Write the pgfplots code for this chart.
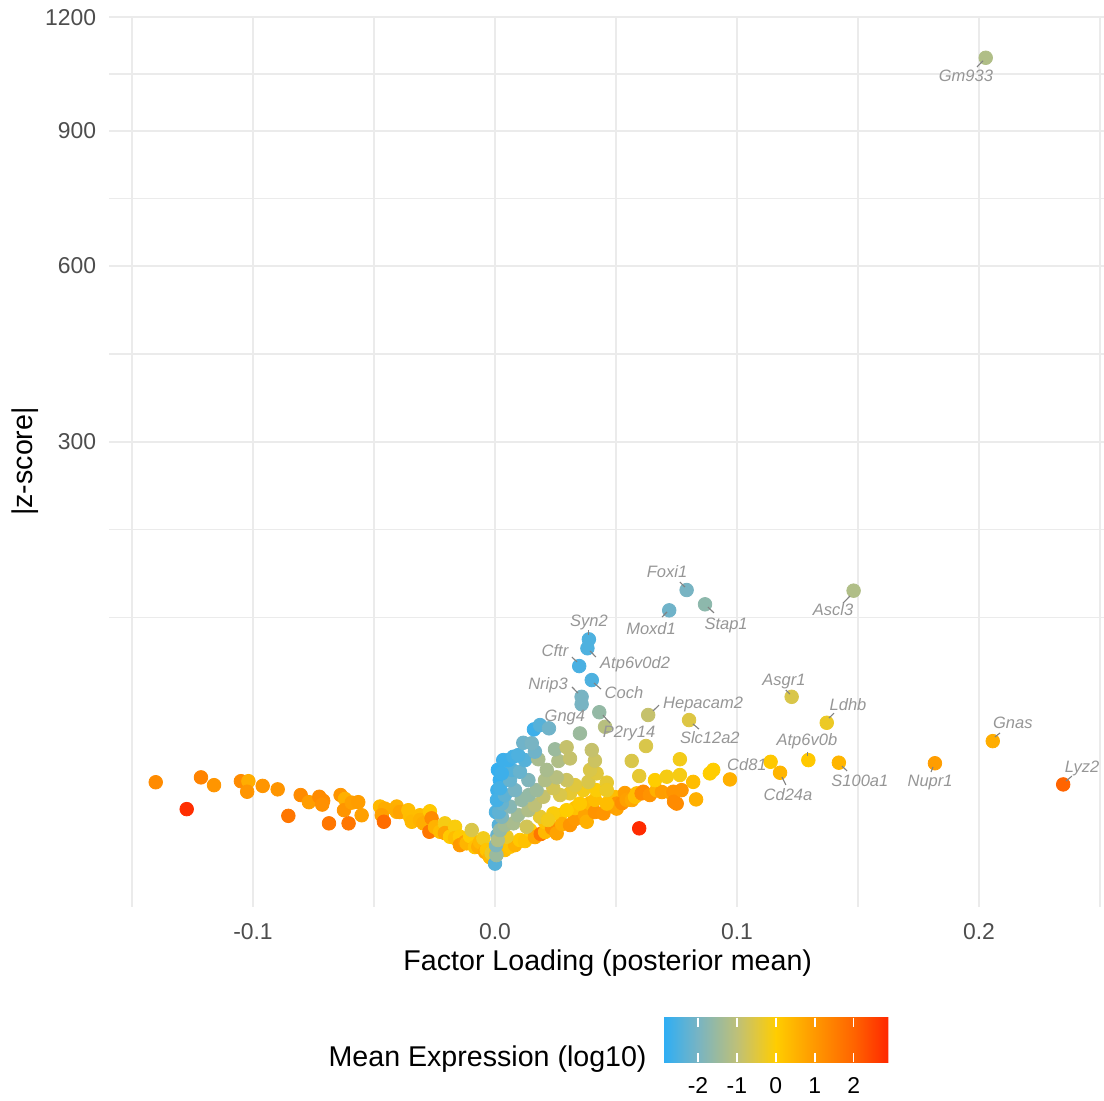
\documentclass[border=0pt]{standalone}
\usepackage{fontspec}
\setmainfont{Liberation Sans}
\usepackage{pgfplots}
\pgfplotsset{compat=1.18}
\usepackage{pgfplotstable}
\usetikzlibrary{calc}

\definecolor{gridc}{RGB}{235,235,235}
\definecolor{tickc}{RGB}{77,77,77}
\definecolor{labc}{RGB}{150,150,150}
\definecolor{segc}{RGB}{130,130,130}

\pgfplotsset{colormap={expr}{rgb255(0cm)=(45,174,245); rgb255(0.89cm)=(120,180,195); rgb255(1.89cm)=(190,192,120); rgb255(2.39cm)=(224,199,62); rgb255(2.89cm)=(255,205,0); rgb255(3.89cm)=(255,152,0); rgb255(4.89cm)=(255,100,0); rgb255(5.78cm)=(255,40,0)}}
\pgfplotsset{pt/.style={scatter, only marks, mark=*, mark size=3.4pt, point meta=explicit,
    scatter/use mapped color={draw=mapped color, fill=mapped color}}}

% x = factor loading, z = |z-score|, e = mean expression (log10)
\pgfplotstableread{
x z e
-0.1402 11.7 1.25
-0.1274 5.4 2.8
-0.1215 13.1 1.4
-0.1161 10.9 1.05
-0.1050 12.0 1.25
-0.1019 12.0 0.6
-0.1024 9.2 1.05
-0.0960 10.7 1.05
-0.0898 9.8 1.05
-0.0854 4.2 1.65
-0.0803 8.4 1.25
-0.0769 6.8 0.9
-0.0726 8.0 1.25
-0.0710 7.1 1.25
-0.0714 6.3 1.15
-0.0686 3.04 1.65
-0.0638 8.4 1.05
-0.0620 7.5 0.55
-0.0624 5.2 1.05
-0.0605 3.04 1.65
-0.0592 6.7 0.85
-0.0565 6.8 0.9
-0.0551 4.3 0.85
-0.0475 5.9 0.4
-0.0455 5.5 0.6
-0.0468 4.3 0.85
-0.0459 3.27 1.85
-0.0406 5.9 0.55
-0.0406 4.9 0.6
-0.0393 4.86 0.8
-0.0358 5.2 0.3
-0.0351 4.05 0.3
-0.0344 3.27 0.4
-0.0310 4.3 0.3
-0.0310 3.53 0.5
-0.0296 3.04 0.6
-0.0269 5.0 0.1
-0.0262 3.8 1.25
-0.0271 1.96 1.65
-0.0248 2.53 0.5
-0.0227 1.96 0.3
-0.0207 3.04 -0.15
-0.0207 1.81 0.8
-0.0186 1.43 0.05
-0.0165 2.57 -0.1
-0.0165 1.31 0.3
-0.0145 1.43 0.05
-0.0145 0.73 1.0
-0.0124 0.96 0.9
-0.0117 0.86 0.45
-0.0103 1.50 0.0
-0.0096 2.16 -0.6
-0.0083 0.60 0.2
-0.0069 0.62 0.6
-0.0062 0.96 0.4
-0.0048 1.28 -0.2
-0.0041 0.33 0.7
-0.0034 0.43 0.15
-0.0021 0.13 0.4
-0.0014 0.27 -0.3
0.0007 0.27 0.5
0.0008 0.43 0.1
0.0041 0.43 0.3
0.0062 0.62 0.2
0.0083 0.73 0.5
0.0103 1.13 0.1
0.0124 1.04 0.2
0.0145 2.16 0.0
0.0165 1.40 0.7
0.0189 1.71 1.65
0.0207 1.93 0.4
0.0207 3.22 0.2
0.0236 2.41 1.2
0.0255 1.78 0.8
0.0269 4.33 0.1
0.0277 2.94 0.6
0.0310 2.8 1.05
0.0331 3.68 1.0
0.0331 5.6 0.2
0.0372 4.33 0.8
0.0379 3.27 0.55
0.0393 6.6 0.4
0.0413 4.86 1.1
0.0448 4.6 1.05
0.0483 6.0 1.0
0.0496 7.93 0.3
0.0503 6.5 1.05
0.0503 5.5 0.8
0.0525 6.6 1.2
0.0537 8.88 0.9
0.0544 7.3 0.85
0.0566 7.26 0.7
0.0579 8.0 0.3
0.0586 8.8 0.3
0.0596 2.37 2.85
0.0606 8.8 1.25
0.0613 9.2 1.25
0.0640 8.4 1.1
0.0668 9.6 0.55
0.0690 9.12 0.9
0.0730 8.8 0.85
0.0737 9.2 1.05
0.0740 6.9 1.25
0.0751 6.5 1.25
0.0771 9.6 1.05
0.0831 7.4 0.55
0.0661 12.3 0.0
0.0710 13.3 -0.15
0.0764 13.8 -0.15
0.0819 11.8 0.3
0.0888 14.3 0.0
0.0902 15.4 0.0
0.0971 12.5 0.55
0.0462 6.5 0.3
0.0241 4.6 -0.1
0.0296 5.2 0.0
0.0351 6.5 0.1
0.0413 7.3 0.3
0.0365 9.6 -0.2
0.0420 9.6 -0.05
0.0310 8.8 -0.4
0.0186 4.05 -0.4
}\ptsA

\pgfplotstableread{
x z e
0.0000 0.01 -2.4
0.0006 0.20 -1.5
0.0004 0.73 -1.9
0.0010 1.60 -2.2
0.0016 2.80 -2.4
0.0004 4.86 -2.5
0.0010 9.6 -2.7
0.0020 12.3 -2.8
0.0048 1.43 -0.3
0.0012 1.13 -1.2
0.0021 2.16 -1.6
0.0041 2.8 -1.4
0.0076 3.04 -1.3
0.0131 2.57 -0.7
0.0219 3.53 -0.2
0.0095 4.33 -1.4
0.0028 4.05 -1.9
0.0017 4.86 -2.3
0.0138 5.2 -1.2
0.0062 5.9 -1.8
0.0165 6.2 -1.0
0.0028 6.5 -2.2
0.0008 7.26 -2.6
0.0110 7.3 -1.6
0.0200 8.0 -0.9
0.0041 8.4 -2.3
0.0140 8.4 -1.6
0.0269 8.4 -0.6
0.0172 9.6 -1.5
0.0083 9.6 -2.0
0.0021 10.1 -2.6
0.0241 10.1 -0.7
0.0331 10.9 -0.5
0.0062 12.3 -2.2
0.0138 12.3 -1.9
0.0207 12.3 -1.2
0.0296 12.3 -0.8
0.0386 11.8 -0.6
0.0462 11.6 -0.4
0.0462 9.6 -0.3
0.0255 13.1 -1.1
0.0420 14.3 -0.5
0.0393 15.4 -0.6
0.0012 15.4 -2.8
0.0070 15.4 -2.4
0.0028 14.3 -2.7
0.0103 14.8 -2.2
0.0214 15.4 -1.3
0.0596 13.5 -0.4
0.0565 18.4 -0.6
0.0764 19.0 -0.2
0.0624 24.0 -0.6
0.0034 18.7 -2.7
0.0055 18.7 -2.7
0.0124 18.7 -2.4
0.0076 19.9 -2.6
0.0096 20.5 -2.5
0.0179 19.0 -1.3
0.0262 18.4 -1.2
0.0310 19.3 -0.9
0.0413 18.5 -0.8
0.0400 22.4 -0.9
0.0165 21.8 -2.1
0.0248 22.7 -1.5
0.0296 23.5 -0.9
0.0117 25.3 -2.1
0.0152 25.1 -2.0
0.0351 29.3 -1.5
0.0161 31.1 -2.7
0.0186 33.1 -2.4
0.0223 31.6 -2.1
0.0431 39.4 -1.6
}\ptsB

% labelled genes
\pgfplotstableread{
x z e
0.2028 1088 -1.2
0.1482 126.3 -1.2
0.0792 126.9 -2.0
0.0868 114.1 -1.7
0.0720 108.9 -2.1
0.0388 85.6 -2.5
0.0382 79.0 -2.5
0.0348 66.6 -2.55
0.0400 57.6 -2.5
0.0358 47.7 -2.0
0.0358 43.6 -2.0
0.0455 32.3 -1.1
0.0633 38.0 -0.9
0.0802 35.5 -0.55
0.1226 47.7 -0.6
0.1371 34.2 -0.3
0.2057 26.0 0.6
0.2348 11.1 2.0
0.1295 18.7 0.1
0.1421 17.8 0.45
0.1818 17.6 0.9
0.1139 18.1 0.1
0.1178 14.5 0.45
}\ptsC

\begin{document}
\begin{tikzpicture}
\begin{axis}[
  set layers,
  at={(0,0)}, anchor=south west,
  scale only axis, width=498.25pt, height=445.5pt,
  xmin=-0.1593, xmax=0.2525, ymin=-1.67, ymax=34.69,
  axis line style={draw=none},
  major tick length=0pt, minor tick length=0pt,
  xtick={-0.1,0,0.1,0.2}, xticklabels={-0.1,0.0,0.1,0.2},
  ytick={17.3205,24.4949,30,34.6410}, yticklabels={300,600,900,1200},
  minor xtick={-0.15,-0.05,0.05,0.15,0.25},
  minor ytick={10.15,13.74,20.9,27.25,32.32},
  grid=both,
  major grid style={gridc, line width=1.1pt},
  minor grid style={gridc, line width=0.6pt},
  tick label style={font=\fontsize{11.45}{13.7}\selectfont, text=tickc, inner sep=0pt},
  xticklabel style={anchor=north, yshift=-8pt},
  yticklabel style={anchor=east, xshift=-6.5pt},
  xlabel={Factor Loading (posterior mean)},
  xlabel style={at={(axis description cs:0.5,-0.0471)}, anchor=north, inner sep=0pt, font=\fontsize{14.3}{17}\selectfont},
  ylabel={|z-score|},
  ylabel style={at={(axis description cs:-0.0848,0.5)}, anchor=center, inner sep=0pt, font=\fontsize{14.3}{17}\selectfont},
  colormap name=expr,
  point meta min=-2.89, point meta max=2.89,
  colorbar horizontal,
  colorbar/width=22.3pt,
  colorbar shift/.style={},
  colorbar style={
    at={($(parent axis.south west)+(276.9pt,-55.35pt)$)}, anchor=north west,
    scale only axis,
    width=112.5pt,
    axis on top,
    axis line style={draw=none},
    xtick={-2,-1,0,1,2}, xticklabels={-2,-1,0,1,2},
    xtick pos=both, xticklabel pos=lower,
    tick align=inside, major tick length=4.46pt,
    xtick style={white, line width=0.8pt},
    xticklabel style={font=\fontsize{11.45}{13.7}\selectfont, text=black, anchor=north, inner sep=0pt, yshift=-7.35pt},
  },
]
\addplot[pt] table[x=x, y expr=sqrt(\thisrow{z}), meta=e]{\ptsA};
\addplot[pt] table[x=x, y expr=sqrt(\thisrow{z}), meta=e]{\ptsB};
\addplot[pt] table[x=x, y expr=sqrt(\thisrow{z}), meta=e]{\ptsC};

\begin{pgfonlayer}{axis foreground}
\begin{scope}[segc, line width=0.55pt]
\draw (axis cs:0.1992,32.61) -- (axis cs:0.2017,32.86);
\draw (axis cs:0.1438,10.73) -- (axis cs:0.1467,11.02);
\draw (axis cs:0.0764,11.59) -- (axis cs:0.0785,11.39);
\draw (axis cs:0.0880,10.57) -- (axis cs:0.0905,10.33);
\draw (axis cs:0.0690,10.16) -- (axis cs:0.0711,10.37);
\draw (axis cs:0.0388,9.63) -- (axis cs:0.0388,9.43);
\draw (axis cs:0.0393,8.78) -- (axis cs:0.0417,8.53);
\draw (axis cs:0.0318,8.53) -- (axis cs:0.0339,8.33);
\draw (axis cs:0.0409,7.47) -- (axis cs:0.0438,7.22);
\draw (axis cs:0.0318,7.31) -- (axis cs:0.0343,7.06);
\draw (axis cs:0.0446,6.16) -- (axis cs:0.0475,5.84);
\draw (axis cs:0.0653,6.33) -- (axis cs:0.0678,6.57);
\draw (axis cs:0.0818,5.80) -- (axis cs:0.0843,5.59);
\draw (axis cs:0.1202,7.18) -- (axis cs:0.1219,7.02);
\draw (axis cs:0.1380,6.04) -- (axis cs:0.1401,6.24);
\draw (axis cs:0.2066,5.27) -- (axis cs:0.2087,5.43);
\draw (axis cs:0.2360,3.47) -- (axis cs:0.2384,3.67);
\draw (axis cs:0.1293,4.65) -- (axis cs:0.1293,4.49);
\draw (axis cs:0.1434,4.08) -- (axis cs:0.1455,3.88);
\draw (axis cs:0.1810,4.04) -- (axis cs:0.1802,3.84);
\draw (axis cs:0.1186,3.63) -- (axis cs:0.1202,3.31);
\end{scope}

\begin{scope}[every node/.style={anchor=base, inner sep=0pt, text=labc, font=\fontsize{8.25}{10}\selectfont\itshape}]
\node at (axis cs:0.1946,32.01) {Gm933};
\node at (axis cs:0.1397,10.245) {Ascl3};
\node at (axis cs:0.0711,11.78) {Foxi1};
\node at (axis cs:0.0955,9.673) {Stap1};
\node at (axis cs:0.0645,9.469) {Moxd1};
\node at (axis cs:0.0388,9.796) {Syn2};
\node at (axis cs:0.0579,8.069) {Atp6v0d2};
\node at (axis cs:0.0248,8.543) {Cftr};
\node at (axis cs:0.0533,6.857) {Coch};
\node at (axis cs:0.0219,7.224) {Nrip3};
\node at (axis cs:0.0289,5.918) {Gng4};
\node at (axis cs:0.0554,5.265) {P2ry14};
\node at (axis cs:0.0860,6.437) {Hepacam2};
\node at (axis cs:0.0888,5.020) {Slc12a2};
\node at (axis cs:0.1194,7.388) {Asgr1};
\node at (axis cs:0.1459,6.367) {Ldhb};
\node at (axis cs:0.2140,5.620) {Gnas};
\node at (axis cs:0.2426,3.808) {Lyz2};
\node at (axis cs:0.1289,4.910) {Atp6v0b};
\node at (axis cs:0.1508,3.237) {S100a1};
\node at (axis cs:0.1798,3.237) {Nupr1};
\node at (axis cs:0.1041,3.918) {Cd81};
\node at (axis cs:0.1211,2.694) {Cd24a};
\end{scope}
\end{pgfonlayer}
\end{axis}

\node[anchor=base east, inner sep=0pt, font=\fontsize{14.3}{17}\selectfont] at (268.75pt,-80pt) {Mean Expression (log10)};

\pgfresetboundingbox
\path (-54.75pt,-97pt) rectangle (497.25pt,453.5pt);
\end{tikzpicture}
\end{document}
